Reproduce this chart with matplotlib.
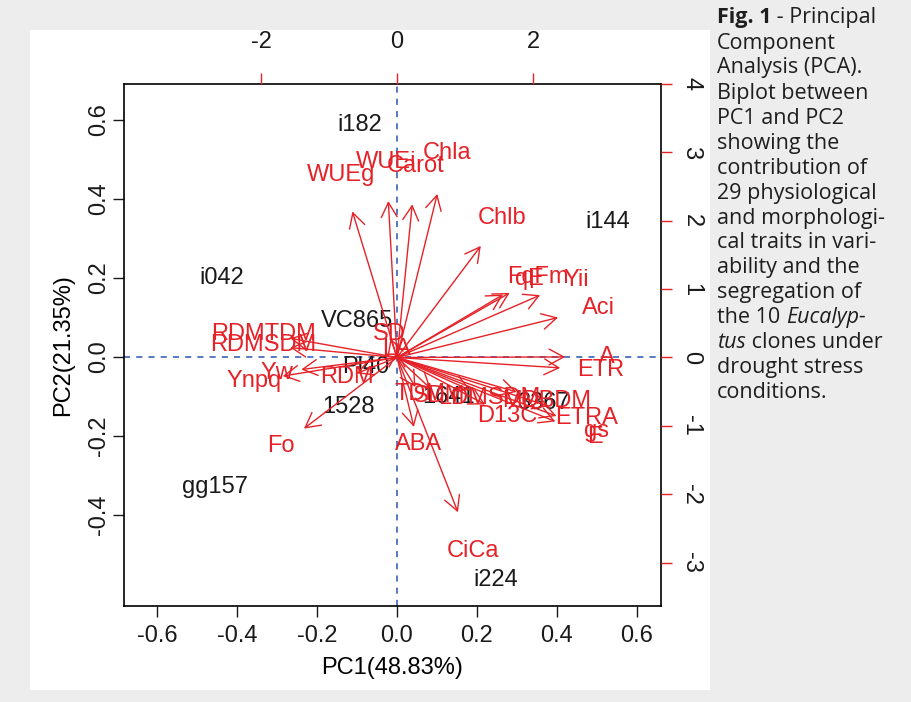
import matplotlib
matplotlib.use("Agg")
import matplotlib.pyplot as plt
from matplotlib.patches import Rectangle

plt.rcParams['font.family'] = ['Liberation Sans', 'DejaVu Sans']
plt.rcParams['axes.unicode_minus'] = False

# clone scores (bottom / left axes)
obs_names = ['i182', 'i144', 'i042', 'VC865', 'Pl40', '1528', 'gg157', 'i224', '1641', '3367']
obs_pc1 = [-0.093, 0.527, -0.437, -0.100, -0.077, -0.120, -0.455, 0.248, 0.128, 0.365]
obs_pc2 = [0.587, 0.342, 0.200, 0.091, -0.025, -0.127, -0.329, -0.565, -0.100, -0.117]

# trait loadings (top / right axes)
var_names = ['A', 'ETR', 'Aci', 'Yii', 'FqFm', 'qE', 'Chlb', 'Chla', 'Carot', 'WUEi',
             'WUEg', 'SD', 'LA', 'RDMTDM', 'RDMSDM', 'Yw', 'Ynpq', 'RDM', 'Fo', 'ABA',
             'CiCa', 'TDM', 'SDM', 'LDMSDM', 'MDBDM', 'D13C', 'ETRA', 'gs', 'E']
var_pc1 = [3.09, 3.00, 2.96, 2.63, 2.07, 1.95, 1.54, 0.74, 0.28, -0.16,
           -0.82, -0.12, 0.00, -1.96, -1.96, -1.76, -2.10, -0.74, -1.71, 0.31,
           1.12, 0.34, 0.62, 1.35, 2.20, 1.62, 2.79, 2.93, 2.91]
var_pc2 = [0.01, -0.19, 0.73, 1.14, 1.18, 1.15, 2.04, 2.99, 2.80, 2.86,
           2.67, 0.35, 0.12, 0.35, 0.18, -0.22, -0.34, -0.29, -1.30, -1.27,
           -2.83, -0.54, -0.57, -0.60, -0.63, -0.86, -0.89, -1.07, -1.17]

red = '#e52228'
blue = '#2b55b0'
fs = 17

fig = plt.figure(figsize=(9.12, 7.02), dpi=100, facecolor='#ededed')
fig.patches.append(Rectangle((30 / 912, 1 - 690 / 702), 680 / 912, 660 / 702,
                             transform=fig.transFigure, facecolor='white',
                             edgecolor='none', zorder=-10))

pos = [124 / 912, 1 - 606 / 702, 537 / 912, 522 / 702]
ax = fig.add_axes(pos)
ax.set_xlim(-0.6825, 0.66)
ax.set_ylim(-0.630, 0.691)
ax.set_xticks([-0.6, -0.4, -0.2, 0.0, 0.2, 0.4, 0.6])
ax.set_yticks([-0.4, -0.2, 0.0, 0.2, 0.4, 0.6])
ax.tick_params(direction='out', length=8, width=1, labelsize=fs, colors='#1a1a1a')
ax.tick_params(axis='x', pad=6)
ax.tick_params(axis='y', pad=2)
for lab in ax.get_yticklabels():
    lab.set_rotation(90)
    lab.set_va('center')
for sp in ax.spines.values():
    sp.set_linewidth(1.2)
ax.set_xlabel('PC1(48.83%)', fontsize=fs, labelpad=7)
ax.set_ylabel('PC2(21.35%)', fontsize=fs, labelpad=10)
ax.axhline(0, color=blue, ls=(0, (4, 4)), lw=1.1)
ax.axvline(0, color=blue, ls=(0, (4, 4)), lw=1.1)

for name, x, y in zip(obs_names, obs_pc1, obs_pc2):
    ax.text(x, y, name, ha='center', va='center', fontsize=fs, color='#1a1a1a')

ax2 = fig.add_axes(pos, frameon=False)
ax2.set_xlim(-4.015, 3.882)
ax2.set_ylim(-3.635, 3.985)
ax2.xaxis.tick_top()
ax2.yaxis.tick_right()
ax2.set_xticks([-2, 0, 2])
ax2.set_yticks([-3, -2, -1, 0, 1, 2, 3, 4])
ax2.tick_params(direction='out', length=8, width=1, labelsize=fs,
                color=red, labelcolor='#1a1a1a')
ax2.tick_params(axis='x', pad=14)
ax2.tick_params(axis='y', pad=6)
for lab in ax2.get_yticklabels():
    lab.set_rotation(-90)
    lab.set_va('center')

for name, u, v in zip(var_names, var_pc1, var_pc2):
    ax2.annotate('', xy=(0.8 * u, 0.8 * v), xytext=(0, 0),
                 arrowprops=dict(arrowstyle='->,head_length=0.7,head_width=0.38',
                                 color=red, lw=1.0, shrinkA=0, shrinkB=0,
                                 mutation_scale=15))
    ax2.text(u, v, name, ha='center', va='center', fontsize=fs, color=red)

# caption
cap_lines = [
    [('Fig. 1', 'bold', 'normal'), (' - Principal', 'normal', 'normal')],
    [('Component', 'normal', 'normal')],
    [('Analysis (PCA).', 'normal', 'normal')],
    [('Biplot between', 'normal', 'normal')],
    [('PC1 and PC2', 'normal', 'normal')],
    [('showing the', 'normal', 'normal')],
    [('contribution of', 'normal', 'normal')],
    [('29 physiological', 'normal', 'normal')],
    [('and morphologi-', 'normal', 'normal')],
    [('cal traits in vari-', 'normal', 'normal')],
    [('ability and the', 'normal', 'normal')],
    [('segregation of', 'normal', 'normal')],
    [('the 10 ', 'normal', 'normal'), ('Eucalyp-', 'normal', 'italic')],
    [('tus', 'normal', 'italic'), (' clones under', 'normal', 'normal')],
    [('drought stress', 'normal', 'normal')],
    [('conditions.', 'normal', 'normal')],
]
renderer = fig.canvas.get_renderer()
for i, line in enumerate(cap_lines):
    x = 717
    y = 18 + 25 * i
    for txt, weight, style in line:
        t = fig.text(x / 912, 1 - y / 702, txt, fontsize=15.5, family='Open Sans',
                     weight=weight, style=style, ha='left', va='center', color='#1e1e1e')
        bb = t.get_window_extent(renderer)
        x += bb.width

fig.savefig('out.png', dpi=100, facecolor=fig.get_facecolor())
